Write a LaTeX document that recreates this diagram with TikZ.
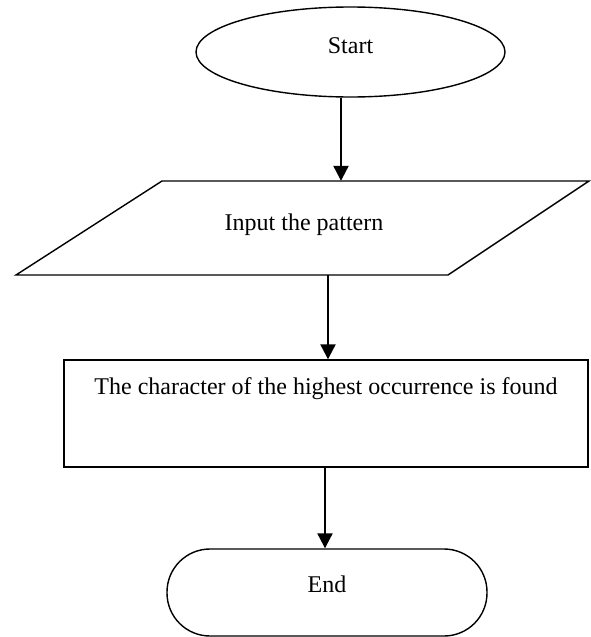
\documentclass[tikz,border=0pt]{standalone}
\usepackage{fontspec}
\setmainfont{Liberation Serif}
\usetikzlibrary{arrows.meta,shapes.geometric}
\begin{document}
\begin{tikzpicture}[x=1pt,y=-1pt,
  shapeline/.style={draw=black,line width=1.4pt},
  flowarrow/.style={line width=2.2pt,-{Triangle[length=15pt,width=15pt]}},
  every node/.style={font=\fontsize{24}{28}\selectfont,inner sep=0pt}]
\useasboundingbox (0,0) rectangle (590,637);
% Start
\node[shapeline,ellipse,minimum width=309pt,minimum height=90pt,text height=9pt,text depth=7pt] (start) at (350.5,52) {Start};
% Input parallelogram
\coordinate (p1) at (162,181);
\coordinate (p2) at (589,181);
\coordinate (p3) at (448,275);
\coordinate (p4) at (16,275);
\draw[shapeline,line join=miter] (p1) -- (p2) -- (p3) -- (p4) -- cycle;
\node[minimum width=280pt,minimum height=94pt,text height=10pt,text depth=6pt] (in) at (304,228) {Input the pattern};
% Process rectangle
\node[shapeline,rectangle,minimum width=524pt,minimum height=107pt,text height=34pt,text depth=73pt] (proc) at (326,413.5) {The character of the highest occurrence is found};
% End
\node[shapeline,rectangle,rounded corners=43pt,minimum width=320pt,minimum height=87pt,text height=8.5pt,text depth=8.5pt] (end) at (327,592.5) {End};
% arrow columns
\coordinate (a1) at (341,0);
\coordinate (a2) at (328,0);
\coordinate (a3) at (325,0);
\draw[flowarrow] (start.south -| a1) -- (in.north -| a1);
\draw[flowarrow] (in.south -| a2) -- (proc.north -| a2);
\draw[flowarrow] (proc.south -| a3) -- (end.north -| a3);
\end{tikzpicture}
\end{document}
